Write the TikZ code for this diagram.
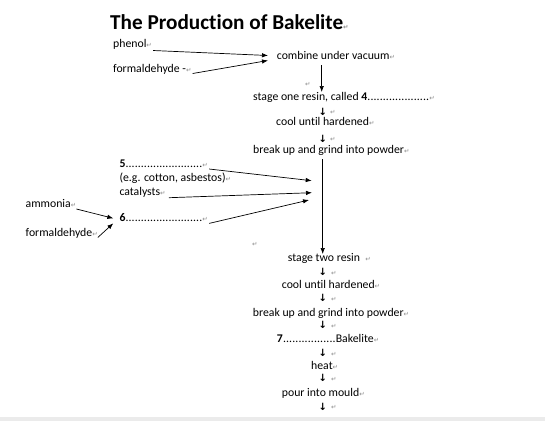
\documentclass[tikz,border=0pt]{standalone}
\usepackage{fontspec}
\setmainfont{Carlito}[Ligatures=NoCommon]
\newfontfamily\symfont{DejaVu Sans}
\usetikzlibrary{arrows.meta}
\newcommand{\parmk}{{\symfont\color{black!45}\fontsize{6.5}{7}\selectfont ↵}}
\newcommand{\dotrun}[1]{\hbox to #1{\xleaders\hbox{.}\hfill}}
\begin{document}
\begin{tikzpicture}[x=1bp,y=-1bp,
  txt/.style={anchor=base west, inner sep=0pt, font=\fontsize{11.8}{13}\selectfont},
  ttl/.style={anchor=base west, inner sep=0pt, font=\fontsize{21.3}{24}\selectfont\bfseries},
  darr/.style={anchor=base, inner sep=0pt, font=\symfont\bfseries\fontsize{10}{11}\selectfont},
  conn/.style={-{Latex[length=6pt,width=4.5pt]}, line width=0.7pt}]
\fill[white] (0,0) rectangle (545,421);
\useasboundingbox (0,0) rectangle (545,421);
\fill[black!8] (0,417) rectangle (545,421);
% title
\node[ttl] (title) at (110,29) {The Production of Bakelite\parmk};
% first stage
\node[txt] (phenol) at (113,47) {phenol\parmk};
\node[txt] (form1) at (113,72.5) {formaldehyde -\parmk};
\node[txt] (combine) at (276.7,59) {combine under vacuum\parmk};
\node[txt] (pmA) at (305,86) {\parmk};
\node[txt] (stage1) at (253,100.7) {stage one resin, called \textbf{4}\dotrun{62bp}\parmk};
\node[darr] (d1) at (322.7,115.3) {↓};
\node[txt] (d1m) at (330,114.5) {\parmk};
\node[txt] (cool1) at (276,125.7) {cool until hardened\parmk};
\node[darr] (d2) at (322.7,142) {↓};
\node[txt] (d2m) at (330,141.5) {\parmk};
\node[txt] (break1) at (253,153) {break up and grind into powder\parmk};
% additives
\node[txt] (five) at (119.3,167) {\textbf{5}\dotrun{77bp}\parmk};
\node[txt] (eg) at (119.3,181.7) {(e.g. cotton, asbestos)\parmk};
\node[txt] (cat) at (119.3,195) {catalysts\parmk};
\node[txt] (six) at (119.3,221.7) {\textbf{6}\dotrun{77bp}\parmk};
\node[txt] (amm) at (25.5,207) {ammonia\parmk};
\node[txt] (form2) at (25.5,236.7) {formaldehyde\parmk};
\node[txt] (pmB) at (252,246) {\parmk};
% second stage
\node[txt] (stage2) at (287.7,261.7) {stage two resin \ \parmk};
\node[darr] (d3) at (322.7,275) {↓};
\node[txt] (d3m) at (331,275) {\parmk};
\node[txt] (cool2) at (281.7,288) {cool until hardened\parmk};
\node[darr] (d4) at (322.7,301.5) {↓};
\node[txt] (d4m) at (331,301) {\parmk};
\node[txt] (break2) at (252.7,316) {break up and grind into powder\parmk};
\node[darr] (d5) at (322.7,328.5) {↓};
\node[txt] (d5m) at (331,328) {\parmk};
\node[txt] (seven) at (276.7,342.7) {\textbf{7}\dotrun{53bp}Bakelite\parmk};
\node[darr] (d6) at (322.7,356.5) {↓};
\node[txt] (d6m) at (331,356) {\parmk};
\node[txt] (heat) at (311,369) {heat\parmk};
\node[darr] (d7) at (322.7,381.5) {↓};
\node[txt] (d7m) at (331,381) {\parmk};
\node[txt] (pour) at (281.7,396.7) {pour into mould\parmk};
\node[darr] (d8) at (322.7,410) {↓};
\node[txt] (d8m) at (331,409.5) {\parmk};
% connector end points
\coordinate (cA) at (268,55.5);
\coordinate (cB) at (268,60.5);
\coordinate (vTop) at (321.7,65);
\coordinate (vBot) at (321.7,92);
\coordinate (lTop) at (322.7,159);
\coordinate (lBot) at (322.7,254);
\coordinate (e5) at (311.7,180.7);
\coordinate (eC) at (312,192.7);
\coordinate (e6) at (309,200);
\coordinate (e6in) at (113.3,218.3);
\coordinate (e6inB) at (113.3,223.3);
% connectors
\draw[conn] ([xshift=1bp,yshift=-3.5bp]phenol.base east) -- (cA);
\draw[conn] ([xshift=1bp,yshift=-1bp]form1.base east) -- (cB);
\draw[conn] (vTop) -- (vBot);
\draw[conn] (lTop) -- (lBot);
\draw[conn] ([xshift=1bp,yshift=-2bp]five.base east) -- (e5);
\draw[conn] ([xshift=3bp,yshift=-2.7bp]cat.base east) -- (eC);
\draw[conn] ([xshift=1bp,yshift=-1.7bp]six.base east) -- (e6);
\draw[conn] ([xshift=0bp,yshift=-2bp]amm.base east) -- (e6in);
\draw[conn] ([xshift=0bp,yshift=-0.7bp]form2.base east) -- (e6inB);
\end{tikzpicture}
\end{document}
